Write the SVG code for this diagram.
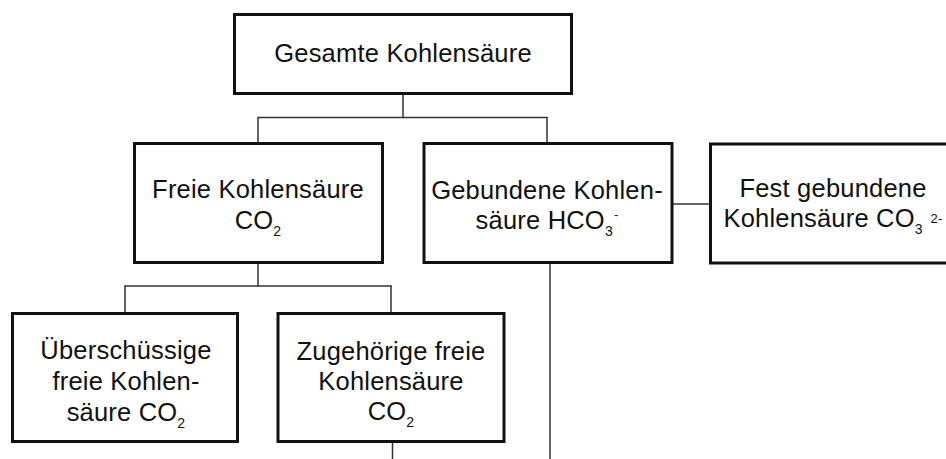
<svg xmlns="http://www.w3.org/2000/svg" width="946" height="459" viewBox="0 0 946 459">
<style>
.box{fill:#fff;stroke:#111;stroke-width:3}
.lbl{font-family:"Liberation Sans",Arial,sans-serif;font-size:25.5px;fill:#111;text-anchor:middle;letter-spacing:0.2px}
.sub{font-size:14px}
.sup{font-size:13px}
#connectors line{stroke:#333;stroke-width:1.5;fill:none}
</style>
<rect width="946" height="459" fill="#fff"/>
<g id="connectors">
<line x1="403" y1="93" x2="403" y2="117.5"/>
<line x1="257.5" y1="117.5" x2="547.5" y2="117.5"/>
<line x1="258" y1="117" x2="258" y2="143"/>
<line x1="547" y1="117" x2="547" y2="143"/>
<line x1="258" y1="263" x2="258" y2="286.5"/>
<line x1="124.5" y1="286" x2="391.5" y2="286"/>
<line x1="125" y1="285.5" x2="125" y2="313"/>
<line x1="391" y1="285.5" x2="391" y2="313"/>
<line x1="672" y1="204" x2="710" y2="204"/>
<line x1="550" y1="263" x2="550" y2="459"/>
<line x1="392.5" y1="442" x2="392.5" y2="459"/>
</g>
<g id="gesamte">
<rect class="box" x="234.5" y="14.5" width="337" height="79"/>
<text class="lbl" x="403" y="62">Gesamte Kohlensäure</text>
</g>
<g id="freie">
<rect class="box" x="134.5" y="143.5" width="248" height="119"/>
<text class="lbl" x="258" y="198">Freie Kohlensäure</text>
<text class="lbl" x="258" y="229">CO<tspan class="sub" dy="7">2</tspan></text>
</g>
<g id="gebundene">
<rect class="box" x="424" y="143.5" width="248" height="119"/>
<text class="lbl" x="547" y="199">Gebundene Kohlen-</text>
<text class="lbl" x="547" y="229">säure HCO<tspan class="sub" dy="7">3</tspan><tspan class="sup" dx="1" dy="-17">-</tspan></text>
</g>
<g id="fest">
<rect class="box" x="710.5" y="144" width="260" height="119"/>
<text class="lbl" x="833" y="197">Fest gebundene</text>
<text class="lbl" x="833" y="227">Kohlensäure CO<tspan class="sub" dy="7">3</tspan><tspan class="sup" dx="4" dy="-11"> 2-</tspan></text>
</g>
<g id="ueberschuessige">
<rect class="box" x="12.5" y="313.5" width="225" height="128"/>
<text class="lbl" x="126" y="359">Überschüssige</text>
<text class="lbl" x="126" y="390">freie Kohlen-</text>
<text class="lbl" x="126" y="421">säure CO<tspan class="sub" dy="7">2</tspan></text>
</g>
<g id="zugehoerige">
<rect class="box" x="278" y="313.5" width="226" height="128"/>
<text class="lbl" x="391" y="360">Zugehörige freie</text>
<text class="lbl" x="391" y="390">Kohlensäure</text>
<text class="lbl" x="391" y="420">CO<tspan class="sub" dy="7">2</tspan></text>
</g>
</svg>
